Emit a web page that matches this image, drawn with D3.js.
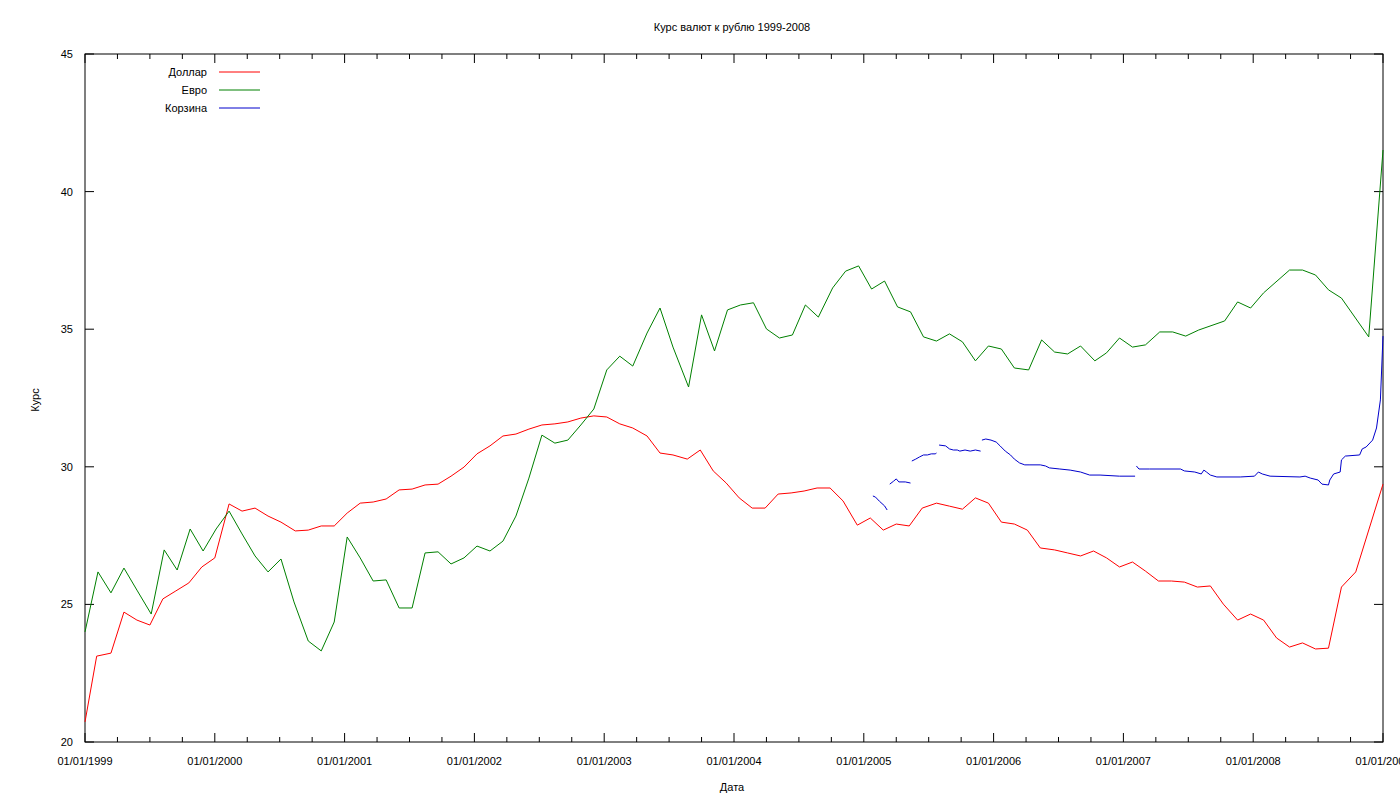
<!DOCTYPE html>
<html><head><meta charset="utf-8">
<script src="https://cdn.jsdelivr.net/npm/d3@7"></script>
<style>body{margin:0;background:#fff;overflow:hidden}text{font-family:"Liberation Sans",Arial,sans-serif;font-size:11px;fill:#000}</style>
</head><body><svg id="chart" width="1400" height="800"></svg>
<script>
// даты в долях года от 01/01/1999
const dollarT = [0,.09,.20,.30,.40,.50,.60,.70,.80,.90,1.00,1.11,1.21,1.31,1.41,1.51,1.62,1.72,1.82,1.92,2.02,2.12,2.22,2.32,2.42,2.52,2.62,2.72,2.82,2.92,3.02,3.12,3.22,3.32,3.42,3.52,3.62,3.72,3.82,3.92,4.02,4.12,4.22,4.33,4.43,4.53,4.64,4.74,4.84,4.94,5.04,5.14,5.24,5.34,5.44,5.54,5.64,5.74,5.84,5.95,6.05,6.15,6.25,6.35,6.45,6.56,6.66,6.76,6.86,6.96,7.06,7.16,7.26,7.36,7.47,7.57,7.67,7.77,7.87,7.97,8.07,8.17,8.27,8.37,8.47,8.57,8.67,8.77,8.88,8.98,9.08,9.18,9.28,9.38,9.48,9.58,9.68,9.79,10.0]
const dollar = [20.73,23.12,23.23,24.72,24.43,24.25,25.20,25.49,25.78,26.36,26.69,28.65,28.39,28.50,28.21,27.99,27.67,27.70,27.85,27.85,28.32,28.68,28.72,28.83,29.16,29.19,29.34,29.37,29.66,29.99,30.47,30.76,31.12,31.19,31.37,31.52,31.56,31.63,31.77,31.85,31.81,31.56,31.41,31.12,30.50,30.43,30.28,30.61,29.85,29.41,28.87,28.50,28.50,29.01,29.05,29.12,29.23,29.23,28.76,27.88,28.14,27.70,27.92,27.85,28.50,28.68,28.57,28.46,28.87,28.68,27.99,27.92,27.70,27.05,26.98,26.87,26.76,26.94,26.69,26.36,26.54,26.21,25.85,25.85,25.81,25.63,25.67,25.01,24.43,24.65,24.43,23.78,23.45,23.60,23.38,23.41,25.63,26.18,29.37]
const euroT = [0,.10,.20,.30,.40,.51,.61,.71,.81,.91,1.01,1.11,1.21,1.31,1.41,1.51,1.61,1.72,1.82,1.92,2.02,2.12,2.22,2.32,2.42,2.52,2.62,2.72,2.82,2.92,3.02,3.12,3.22,3.32,3.42,3.52,3.62,3.72,3.82,3.92,4.02,4.12,4.22,4.33,4.43,4.53,4.65,4.75,4.85,4.95,5.05,5.15,5.25,5.35,5.45,5.55,5.65,5.76,5.86,5.96,6.06,6.16,6.26,6.36,6.46,6.56,6.66,6.76,6.86,6.96,7.06,7.16,7.27,7.37,7.47,7.57,7.67,7.78,7.87,7.97,8.07,8.17,8.28,8.38,8.48,8.58,8.78,8.88,8.98,9.08,9.28,9.38,9.48,9.58,9.68,9.89,10.0]
const euro = [24.00,26.18,25.42,26.32,25.52,24.65,26.98,26.25,27.74,26.94,27.74,28.39,27.56,26.76,26.18,26.65,25.09,23.67,23.31,24.36,27.45,26.69,25.85,25.89,24.87,24.87,26.87,26.91,26.47,26.69,27.12,26.94,27.30,28.21,29.59,31.15,30.86,30.97,31.52,32.10,33.52,34.02,33.66,34.86,35.77,34.35,32.90,35.52,34.21,35.70,35.88,35.96,35.01,34.68,34.79,35.88,35.44,36.50,37.11,37.30,36.46,36.75,35.81,35.63,34.72,34.57,34.83,34.54,33.85,34.39,34.28,33.59,33.52,34.61,34.17,34.10,34.39,33.85,34.14,34.68,34.35,34.43,34.90,34.90,34.75,34.97,35.30,35.99,35.77,36.32,37.15,37.15,36.97,36.43,36.13,34.72,41.51]
// корзина: null = разрыв в данных
const basketT = [6.07,6.09,6.12,6.16,6.18,null,6.20,6.23,6.25,6.27,6.32,6.36,null,6.37,6.40,6.43,6.46,6.49,6.52,6.55,6.56,null,6.58,6.63,6.66,6.69,6.72,6.74,6.78,6.82,6.86,6.90,null,6.91,6.94,6.98,7.02,7.05,7.09,7.13,7.16,7.20,7.24,7.28,7.36,7.40,7.43,7.51,7.59,7.67,7.74,7.82,7.97,8.09,null,8.10,8.12,8.20,8.44,8.47,8.55,8.60,8.62,8.64,8.67,8.72,8.90,9.01,9.04,9.07,9.13,9.36,9.40,9.44,9.50,9.53,9.58,9.59,9.62,9.67,9.68,9.71,9.82,9.84,9.87,9.92,9.95,9.98,10.0]
const basket = [28.94,28.90,28.75,28.58,28.43,null,29.37,29.48,29.56,29.45,29.45,29.41,null,30.21,30.28,30.36,30.43,30.43,30.47,30.47,30.50,null,30.79,30.76,30.65,30.61,30.61,30.57,30.61,30.57,30.61,30.57,null,30.97,31.01,30.97,30.90,30.76,30.57,30.43,30.28,30.14,30.07,30.07,30.07,30.03,29.96,29.92,29.88,29.81,29.70,29.70,29.66,29.66,null,30.03,29.92,29.92,29.92,29.85,29.81,29.74,29.88,29.81,29.70,29.63,29.63,29.66,29.81,29.74,29.66,29.63,29.66,29.59,29.52,29.37,29.34,29.52,29.74,29.81,30.25,30.39,30.43,30.65,30.72,30.97,31.41,32.43,34.75]
const years = d3.range(1999, 2010)
const yTicks = [20, 25, 30, 35, 40, 45]
const seriesNames = ['Доллар', 'Евро', 'Корзина']
const seriesColors = ['#ff0000', '#008000', '#0000cc']

const svg = d3.select('#chart')
const x = d3.scaleLinear().domain([0, 10]).range([85, 1383])
const y = d3.scaleLinear().domain([20, 45]).range([742, 54])

svg.append('rect').attr('x', 85).attr('y', 54).attr('width', 1298).attr('height', 688)
  .attr('fill', 'none').attr('stroke', '#000')

// тики
const minor = d3.range(0, 10.01, 0.25)
minor.forEach(t => {
  const len = Number.isInteger(t) ? 9 : 5
  svg.append('line').attr('x1', x(t)).attr('x2', x(t)).attr('y1', 742).attr('y2', 742 - len).attr('stroke', '#000')
  svg.append('line').attr('x1', x(t)).attr('x2', x(t)).attr('y1', 54).attr('y2', 54 + len).attr('stroke', '#000')
})
years.forEach((yr, i) => {
  svg.append('text').attr('x', x(i)).attr('y', 765).attr('text-anchor', 'middle').text('01/01/' + yr)
})
yTicks.forEach(v => {
  svg.append('line').attr('x1', 85).attr('x2', 94).attr('y1', y(v)).attr('y2', y(v)).attr('stroke', '#000')
  svg.append('line').attr('x1', 1374).attr('x2', 1383).attr('y1', y(v)).attr('y2', y(v)).attr('stroke', '#000')
  svg.append('text').attr('x', 73).attr('y', y(v) + 4).attr('text-anchor', 'end').text(v)
})

svg.append('text').attr('x', 732).attr('y', 31).attr('text-anchor', 'middle').text('Курс валют к рублю 1999-2008')
svg.append('text').attr('x', 732).attr('y', 791).attr('text-anchor', 'middle').text('Дата')
svg.append('text').attr('transform', 'translate(39,400) rotate(-90)').attr('text-anchor', 'middle').text('Курс')

const line = d3.line().defined(d => d[0] != null && d[1] != null).x(d => x(d[0])).y(d => y(d[1]))
const series = [d3.zip(dollarT, dollar), d3.zip(euroT, euro), d3.zip(basketT, basket)]
series.forEach((s, i) => {
  svg.append('path').datum(s).attr('d', line).attr('fill', 'none')
    .attr('stroke', seriesColors[i]).attr('stroke-width', 1)
})

seriesNames.forEach((n, i) => {
  const ly = 72 + i * 18
  svg.append('text').attr('x', 207).attr('y', ly + 4).attr('text-anchor', 'end').text(n)
  svg.append('line').attr('x1', 219).attr('x2', 260).attr('y1', ly).attr('y2', ly).attr('stroke', seriesColors[i])
})
</script></body></html>
